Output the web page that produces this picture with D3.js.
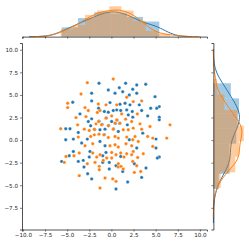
<!DOCTYPE html>
<html>
<head>
<meta charset="utf-8">
<script src="https://cdn.jsdelivr.net/npm/d3@7"></script>
<style>
  body { margin: 0; background: #fff; }
  text { font-family: "DejaVu Sans", sans-serif; fill: #262626; }
</style>
</head>
<body>
<svg id="chart" width="249" height="244"></svg>
<script>
// scatter data (last ten blue points sit under orange ones)
const blueX = [-1.40,-0.35,0.89,0.41,1.28,-2.23,-4.37,-2.23,-0.16,0.97,-1.44,-3.55,-0.8,-0.35,0.21,0.6,1.05,-2.61,-2.23,0.03,-2.34,-5.16,-4.68,-3.74,-1.29,-0.72,0.78,-2.72,-5.16,-4.3,-3.36,-1.29,-0.72,
  1.61,2.86,3.88,2.41,2.02,2.86,4.93,1.54,2.1,3.15,5.41,5.12,4.44,1.73,2.36,3.42,1.91,4.1,5.41,5.41,2.41,1.8,3.54,5.04,2.02,2.86,
  -4.3,-2.42,-0.61,-4.76,-2.5,-0.98,1.05,-3.18,-5.62,-3.74,-0.98,-0.24,-3.1,-0.24,0.52,1.28,-2.68,-2.23,0.52,
  5.04,5.41,5.19,2.59,3.91,3.42,1.84,
  -1.40,-0.57,0.63,-1.06,0.45,0.25,-1.89,-0.31,0.93,-0.80];
const blueY = [6.29,5.55,5.8,5.19,5.36,5.19,4.19,4.34,4.15,3.97,3.53,2.9,3.16,3.09,3.27,3.34,3.27,2.05,2.35,2.05,1.58,1.25,1.25,0.84,1.14,1.21,0.95,0.11,0.03,0.11,-0.33,-0.15,-0.63,
  6.29,6.1,6.18,5.63,5.0,5.19,4.81,4.08,3.9,3.9,3.71,3.53,3.53,3.34,3.16,3.27,2.79,2.68,2.54,2.24,2.54,1.69,0.77,0.11,0.03,-0.88,
  -1.26,-1.26,-1.37,-1.73,-1.88,-1.73,-1.81,-2.25,-2.36,-2.36,-2.47,-2.47,-2.98,-3.2,-2.84,-3.47,-3.72,-4.3,-5.41,
  -0.88,-1.88,-1.99,-2.62,-3.09,-4.13,-4.64,
  2.08,2.46,2.21,1.72,1.85,1.24,1.18,1.61,1.85,0.61];
const orangeX = [-2.72,0.21,-3.43,-4.94,-4.94,-1.48,-0.61,0.6,-2.98,-2.61,-1.29,-1.59,-2.87,0.03,1.16,-4.0,-1.44,-0.61,0.6,-3.81,-1.74,-1.1,-0.35,0.41,0.97,-5.73,-3.06,-2.5,-1.93,0.21,1.34,-3.74,-2.34,-1.93,-1.4,-0.84,-0.35,0.41,0.78,-2.98,-2.11,-0.16,0.41,0.78,
  1.73,2.47,3.42,2.93,1.61,2.29,3.23,6.62,4.36,3.42,2.47,1.91,4.1,4.67,6.25,2.67,3.04,1.73,2.41,1.65,2.29,4.67,
  -3.63,-2.11,-1.29,0.03,0.52,1.05,-5.13,-4.23,-1.66,-0.53,0.03,1.42,-1.85,-2.72,-0.92,-5.32,-1.37,0.78,-1.37,0.78,1.08,1.34,-3.63,-0.72,0.15,0.52,-1.29,
  3.6,2.97,2.29,2.47,1.73,2.41,2.86,2.59,3.31];
const orangeY = [6.36,6.77,5.11,4.08,3.6,4.0,3.9,3.9,3.6,3.27,3.27,3.05,2.6,2.68,2.9,2.49,2.05,2.43,2.24,1.69,1.8,1.69,1.58,1.88,1.88,1.25,1.21,1.06,1.21,1.21,1.14,0.33,0.4,0.58,0.66,0.58,0.29,0.4,0.22,-0.63,-0.41,-0.63,-0.52,-0.77,
  4.75,4.26,4.34,2.9,2.32,2.05,1.8,1.69,1.5,1.21,1.32,1.14,0.4,0.22,0.22,0.4,-0.15,0.33,0.03,-0.41,-0.63,-0.7,
  -1.43,-1.43,-1.62,-1.37,-1.62,-1.43,-1.81,-1.73,-1.88,-1.99,-1.99,-1.88,-2.47,-2.62,-2.25,-2.47,-2.91,-2.62,-3.28,-2.98,-2.91,-3.2,-3.94,-4.19,-4.3,-4.57,-5.3,
  -1.51,-1.92,-1.62,-1.26,-1.51,-2.36,-2.84,-3.58,-3.47];

// bins per marginal histogram [blue, orange], as counted in the picture
const binsX = [6, 9];
const binsY = [7, 7];

const xTicks = [-10, -7.5, -5, -2.5, 0, 2.5, 5, 7.5, 10];
const yTicks = [-7.5, -5, -2.5, 0, 2.5, 5, 7.5, 10];

const seriesColors = ["#1f77b4", "#ff7f0e"];
const series = [
  { xs: blueX, ys: blueY, color: seriesColors[0] },
  { xs: orangeX, ys: orangeY, color: seriesColors[1] }
];

// layout (seaborn jointplot: ratio 5, space .2)
const main = { left: 22, top: 43, width: 185, height: 186.5 };
const cell = main.width / 5.8;
const gap = cell * 0.2;
const margX = { left: main.left, top: main.top - gap - cell, width: main.width, height: cell };
const margY = { left: main.left + main.width + gap, top: main.top, width: cell, height: main.height };

const svg = d3.select("#chart");

const x = d3.scaleLinear().domain([-10.1, 10.8]).range([main.left, main.left + main.width]);
const y = d3.scaleLinear().domain([-9.9, 10.75]).range([main.top + main.height, main.top]);

// density histogram with k equal bins over the data range, and gaussian kde
function histogram(a, k) {
  const lo = d3.min(a), hi = d3.max(a);
  const step = (hi - lo) / k;
  const bins = d3.bin().domain([lo, hi]).thresholds(d3.range(1, k).map(i => lo + i * step))(a);
  return bins.map(b => ({ x0: b.x0, x1: b.x1, d: b.length / (a.length * step) }));
}
function kde(a) {
  const s = a.slice().sort(d3.ascending);
  const sd = d3.deviation(a);
  const iqr = d3.quantileSorted(s, 0.75) - d3.quantileSorted(s, 0.25);
  const bw = 1.059 * Math.min(sd, iqr / 1.349) * Math.pow(a.length, -0.2);
  const lo = s[0] - 3 * bw, hi = s[s.length - 1] + 3 * bw;
  const grid = d3.range(100).map(i => lo + i * (hi - lo) / 99);
  return grid.map(g => [g, d3.sum(a, v => Math.exp(-0.5 * ((g - v) / bw) ** 2)) / (a.length * bw * Math.sqrt(2 * Math.PI))]);
}

const hx = series.map((s, i) => histogram(s.xs, binsX[i]));
const hy = series.map((s, i) => histogram(s.ys, binsY[i]));
const kx = series.map(s => kde(s.xs));
const ky = series.map(s => kde(s.ys));

const maxDx = d3.max([...hx.flat().map(b => b.d), ...kx.flat().map(p => p[1])]);
const maxDy = d3.max([...hy.flat().map(b => b.d), ...ky.flat().map(p => p[1])]);

const dX = d3.scaleLinear().domain([0, maxDx * 1.05]).range([margX.top + margX.height, margX.top]);
const dY = d3.scaleLinear().domain([0, maxDy * 1.05]).range([margY.left, margY.left + margY.width]);

// top marginal
const gx = svg.append("g");
series.forEach((s, i) => {
  gx.selectAll(null).data(hx[i]).join("rect")
    .attr("x", b => x(b.x0))
    .attr("width", b => x(b.x1) - x(b.x0))
    .attr("y", b => dX(b.d))
    .attr("height", b => dX(0) - dX(b.d))
    .attr("fill", s.color)
    .attr("fill-opacity", 0.4);
  gx.append("path")
    .attr("d", d3.line().x(p => x(p[0])).y(p => dX(p[1]))(kx[i]))
    .attr("fill", "none")
    .attr("stroke", s.color)
    .attr("stroke-width", 1);
});

// right marginal
const gy = svg.append("g");
series.forEach((s, i) => {
  gy.selectAll(null).data(hy[i]).join("rect")
    .attr("y", b => y(b.x1))
    .attr("height", b => y(b.x0) - y(b.x1))
    .attr("x", dY(0))
    .attr("width", b => dY(b.d) - dY(0))
    .attr("fill", s.color)
    .attr("fill-opacity", 0.4);
  gy.append("path")
    .attr("d", d3.line().x(p => dY(p[1])).y(p => y(p[0]))(ky[i]))
    .attr("fill", "none")
    .attr("stroke", s.color)
    .attr("stroke-width", 1);
});

// scatter
series.forEach(s => {
  svg.append("g").selectAll("circle").data(s.xs).join("circle")
    .attr("cx", d => x(d))
    .attr("cy", (d, j) => y(s.ys[j]))
    .attr("r", 1.7)
    .attr("fill", s.color)
    .attr("stroke", "#fff")
    .attr("stroke-width", 0.3);
});

// axes
const fmt = d => d3.format(".1f")(d).replace("-", "\u2212");
function styleAxis(g) {
  g.selectAll(".domain").attr("stroke", "#262626").attr("stroke-width", 0.8);
  g.selectAll(".tick line").attr("stroke", "#262626").attr("stroke-width", 0.6);
  g.selectAll(".tick text").style("font-size", "5.6px").attr("fill", "#262626");
}
svg.append("g")
  .attr("transform", `translate(0,${main.top + main.height})`)
  .call(d3.axisBottom(x).tickValues(xTicks).tickFormat(fmt).tickSizeOuter(0).tickSize(2).tickPadding(2))
  .call(styleAxis);
svg.append("g")
  .attr("transform", `translate(${main.left},0)`)
  .call(d3.axisLeft(y).tickValues(yTicks).tickFormat(fmt).tickSizeOuter(0).tickSize(2).tickPadding(2))
  .call(styleAxis);
svg.append("g")
  .attr("transform", `translate(0,${margX.top + margX.height})`)
  .call(d3.axisBottom(x).tickValues(xTicks).tickFormat("").tickSizeOuter(0).tickSize(2))
  .call(styleAxis);
svg.append("g")
  .attr("transform", `translate(${margY.left},0)`)
  .call(d3.axisLeft(y).tickValues(yTicks).tickFormat("").tickSizeOuter(0).tickSize(2))
  .call(styleAxis);
</script>
</body>
</html>
